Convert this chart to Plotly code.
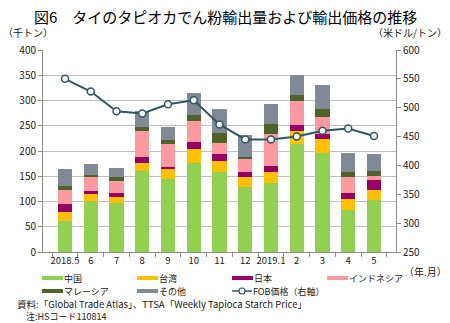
import plotly.graph_objects as go

categories = ["2018.5", "6", "7", "8", "9", "10", "11", "12", "2019.1", "2", "3", "4", "5"]
china     = [62, 101, 98, 160, 144, 177, 158, 129, 136, 214, 196, 84, 103]
taiwan    = [18, 14, 11, 17, 22, 27, 23, 20, 23, 26, 28, 20, 20]
japan     = [15, 5, 8, 11, 3, 14, 13, 9, 11, 11, 10, 12, 19]
indonesia = [27, 28, 23, 51, 45, 41, 22, 26, 64, 49, 33, 32, 9]
malaysia  = [9, 5, 8, 9, 8, 12, 20, 4, 20, 11, 16, 10, 9]
others    = [34, 22, 18, 32, 25, 43, 47, 43, 39, 40, 48, 38, 34]
fob_price = [550, 528, 494, 490, 506, 513, 471, 445, 445, 450, 460, 464, 451]

series_names = ["中国", "台湾", "日本", "インドネシア", "マレーシア", "その他"]
series_vals = [china, taiwan, japan, indonesia, malaysia, others]
colors = ["#92D050", "#FFC000", "#990066", "#FF99A0", "#4F6228", "#7F8A96"]
line_color = "#2E5866"
fob_name = "FOB価格(右軸)"
font_jp = "Noto Sans CJK JP"

W, H = 450, 323
plot_l, plot_r, plot_t, plot_b = 43, 396, 50, 252


def px(xp):
    return (xp - plot_l) / (plot_r - plot_l)


def py(yp):
    return (plot_b - yp) / (plot_b - plot_t)


fig = go.Figure()
for name, vals, c in zip(series_names, series_vals, colors):
    fig.add_trace(go.Bar(x=categories, y=vals, name=name, marker=dict(color=c, line=dict(width=0))))
fig.add_trace(go.Scatter(x=categories, y=fob_price, name=fob_name, yaxis="y2",
                         mode="lines+markers", line=dict(color=line_color, width=2),
                         marker=dict(color="white", size=7, line=dict(color=line_color, width=1.5))))

txt = "#202020"
small = 9
annotations = [
    dict(text="図6　タイのタピオカでん粉輸出量および輸出価格の推移", x=px(225), y=py(16),
         xanchor="center", font=dict(size=15, color="#000000")),
    dict(text="（千トン）", x=px(2), y=py(33), xanchor="left", font=dict(size=10, color=txt)),
    dict(text="（米ドル/トン）", x=px(448), y=py(33), xanchor="right", font=dict(size=10, color=txt)),
    dict(text="（年.月）", x=px(403), y=py(271), xanchor="left", font=dict(size=10, color=txt)),
    dict(text="資料:「Global Trade Atlas」、TTSA「Weekly Tapioca Starch Price」", x=px(16), y=py(304),
         xanchor="left", font=dict(size=9.5, color=txt)),
    dict(text="注:HSコード110814", x=px(25), y=py(316), xanchor="left", font=dict(size=small, color=txt)),
]
shapes = []

# manual legend (layout only)
legend_pos = [(42, 278), (137, 278), (232, 278), (327, 278), (42, 291), (137, 291)]
for (lx, ly), name, c in zip(legend_pos, series_names, colors):
    shapes.append(dict(type="rect", xref="paper", yref="paper", x0=px(lx), x1=px(lx + 21),
                       y0=py(ly + 2), y1=py(ly - 2), fillcolor=c, line=dict(width=0)))
    annotations.append(dict(text=name, x=px(lx + 21), y=py(ly), xanchor="left",
                            font=dict(size=small, color=txt)))
fx, fy = 232, 291
shapes.append(dict(type="line", xref="paper", yref="paper", x0=px(fx), x1=px(fx + 20),
                   y0=py(fy), y1=py(fy), line=dict(color=line_color, width=1.5)))
shapes.append(dict(type="circle", xref="paper", yref="paper", x0=px(fx + 7), x1=px(fx + 13),
                   y0=py(fy + 3), y1=py(fy - 3), fillcolor="white", line=dict(color=line_color, width=1.2)))
annotations.append(dict(text=fob_name.replace("(", "（").replace(")", "）"), x=px(fx + 20), y=py(fy),
                        xanchor="left", font=dict(size=small, color=txt)))

for a in annotations:
    a.update(xref="paper", yref="paper", showarrow=False, yanchor="middle", borderpad=0)

fig.update_layout(
    width=W, height=H,
    margin=dict(l=plot_l, r=W - plot_r, t=plot_t, b=H - plot_b),
    paper_bgcolor="white", plot_bgcolor="white",
    barmode="stack", bargap=0.45,
    font=dict(family=font_jp, size=10, color="#404040"),
    showlegend=False,
    xaxis=dict(type="category", showline=True, linecolor="#8c8c8c", ticks="outside",
               tickson="boundaries", ticklen=4, tickcolor="#8c8c8c", tickangle=0,
               tickfont=dict(size=9.5, color=txt)),
    yaxis=dict(range=[0, 400], dtick=50, showline=True, linecolor="#8c8c8c", ticks="outside",
               ticklen=4, tickcolor="#8c8c8c", gridcolor="#bfbfbf", gridwidth=1,
               tickfont=dict(size=10, color=txt), zeroline=False),
    yaxis2=dict(range=[250, 600], dtick=50, overlaying="y", side="right", showline=True,
                linecolor="#8c8c8c", ticks="outside", ticklen=4, tickcolor="#8c8c8c",
                showgrid=False, tickfont=dict(size=10, color=txt), zeroline=False),
    annotations=annotations,
    shapes=shapes,
)

fig.write_html("out.html")
